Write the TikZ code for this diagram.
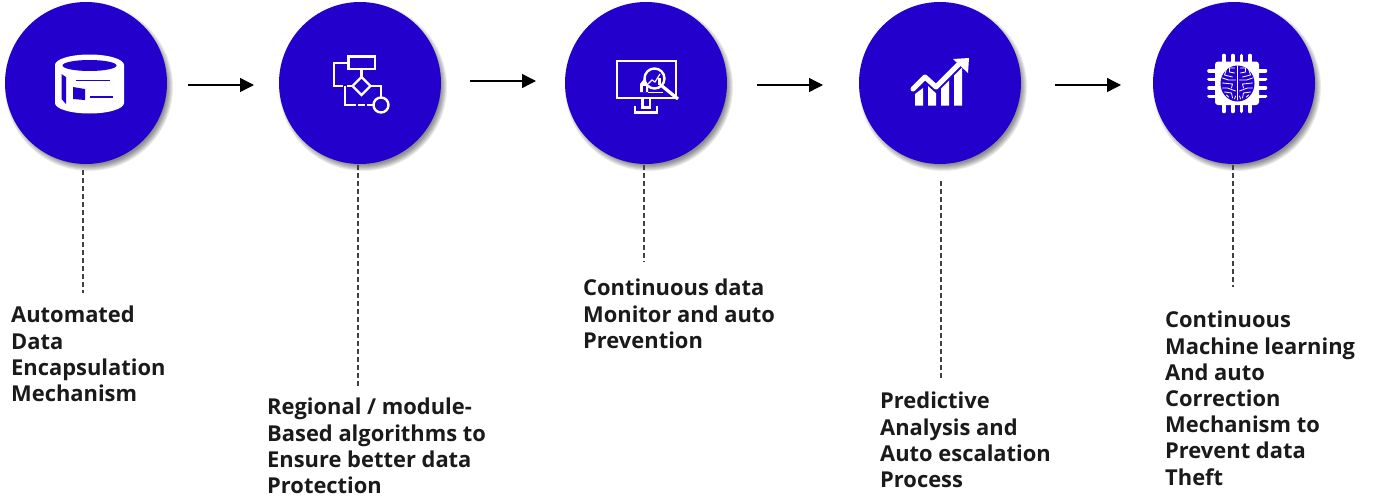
\documentclass[tikz,border=0pt]{standalone}
\usepackage{fontspec}
\setmainfont{Open Sans}
\usetikzlibrary{arrows.meta}
\definecolor{disc}{HTML}{2300CC}
\definecolor{ink}{HTML}{1A1A1A}
\tikzset{
  x=1pt,y=-1pt,
  discnode/.style={circle,fill=disc,minimum size=162pt,inner sep=0pt},
  flowarrow/.style={draw=black,line width=1.3pt,-{Triangle[length=14pt,width=14pt]}},
  leader/.style={draw=black!75,line width=1.3pt,dash pattern=on 5pt off 3pt},
  caption/.style={anchor=north west,inner sep=0pt,align=left,text=ink,font=\fontsize{21.9}{26.2}\selectfont\bfseries},
  iconline/.style={draw=white,line width=2.4pt,fill=none},
  brainline/.style={draw=white,line width=.8pt,line cap=round}
}
\newcommand{\softshadow}[2]{%
  \foreach \k in {0,...,6}{\fill[black,opacity=.08] (#1+3,#2+4) circle[radius=84-\k];}}
\begin{document}
\begin{tikzpicture}
\useasboundingbox (0,0) rectangle (1379,498);
\softshadow{86}{83}\softshadow{360}{83}\softshadow{646}{83}\softshadow{940}{83}\softshadow{1234}{83}
\node[discnode] (c1) at (86,83) {};
\node[discnode] (c2) at (360,83) {};
\node[discnode] (c3) at (646,83) {};
\node[discnode] (c4) at (940,83) {};
\node[discnode] (c5) at (1234,83) {};

% arrows
\coordinate (a1s) at (188,85); \coordinate (a1e) at (254,85);
\coordinate (a2s) at (470,81); \coordinate (a2e) at (536,81);
\coordinate (a3s) at (757,85); \coordinate (a3e) at (823,85);
\coordinate (a4s) at (1055,85); \coordinate (a4e) at (1121,85);
\draw[flowarrow] (a1s) -- (a1e);
\draw[flowarrow] (a2s) -- (a2e);
\draw[flowarrow] (a3s) -- (a3e);
\draw[flowarrow] (a4s) -- (a4e);

% captions
\node[caption] (t1) at (11,306) {Automated\\Data\\Encapsulation\\Mechanism};
\node[caption] (t2) at (267,398) {Regional / module-\\Based algorithms to\\Ensure better data\\Protection};
\node[caption] (t3) at (583,279) {Continuous data\\Monitor and auto\\Prevention};
\node[caption] (t4) at (880,392) {Predictive\\Analysis and\\Auto escalation\\Process};
\node[caption] (t5) at (1165,311) {Continuous\\Machine learning\\And auto\\Correction\\Mechanism to\\Prevent data\\Theft};

% leaders
\coordinate (d1s) at (83,170); \coordinate (d1e) at (83,293);
\coordinate (d2s) at (358,165); \coordinate (d2e) at (358,388);
\coordinate (d3s) at (644,165); \coordinate (d3e) at (644,262);
\coordinate (d4s) at (941,181); \coordinate (d4e) at (941,380);
\coordinate (d5s) at (1233,165); \coordinate (d5e) at (1233,287);
\draw[leader] (d1s) -- (d1e);
\draw[leader] (d2s) -- (d2e);
\draw[leader] (d3s) -- (d3e);
\draw[leader] (d4s) -- (d4e);
\draw[leader] (d5s) -- (d5e);

% icon 1: storage drum
\fill[white] (55,65) arc[start angle=180,end angle=360,x radius=34.5,y radius=10.5] -- (124,103)
  arc[start angle=0,end angle=180,x radius=34.5,y radius=10.5] -- cycle;
\fill[disc] (89.5,65.5) ellipse[x radius=27,y radius=5.5];
\fill[disc] (61.5,74) -- (66,77) -- (66,104) -- (61.5,99) -- cycle;
\fill[disc] (76,79.5) rectangle (110,81);
\fill[disc] (73,87) -- (85,89) -- (85,100) -- (73,99) -- cycle;
\fill[disc] (90,96) rectangle (113,98);

% icon 2: flow chart
\draw[iconline] (348.5,56.5) rectangle (375,69);
\draw[iconline] (348.5,63) -- (334,63) -- (334,86) -- (343,86);
\draw[iconline] (361.5,69) -- (361.5,77);
\draw[iconline] (361.5,77) -- (370.5,86) -- (361.5,95) -- (352.5,86) -- cycle;
\draw[iconline] (370,86) -- (381,86) -- (381,97);
\draw[iconline] (381,105) circle[radius=7.5];
\draw[iconline] (345,86) -- (345,105) -- (349,105);
\draw[iconline,dash pattern=on 6pt off 2.5pt] (347,86) -- (353,86);
\draw[iconline,dash pattern=on 6.5pt off 2.5pt] (349,105) -- (373,105);

% icon 3: monitor and magnifier
\draw[iconline] (617,61) rectangle (676,98);
\draw[iconline] (642.5,98) -- (642.5,107.5) -- (650,107.5) -- (650,98);
\draw[iconline] (635,106) -- (635,112.5) -- (657,112.5) -- (657,106);
\fill[white] (644,79) -- (648,84) -- (648,92) -- (640,92) -- (640,84) -- cycle;
\fill[disc] (642.5,86) rectangle (645.5,92);
\draw[white,line width=1pt] (648,92) -- (663,92);
\fill[disc] (654.5,78.5) circle[radius=10];
\draw[iconline] (654.5,78.5) circle[radius=10];
\draw[white,line width=1.2pt] (648,84) -- (652,80) -- (655,82) -- (660,74);
\fill[white] (658,78) rectangle (660.5,85);
\draw[white,line width=3.2pt] (662,86) -- (678,99);

% icon 4: growth chart
\fill[white] (915,94) -- (923,88) -- (923,105.5) -- (915,105.5) -- cycle;
\fill[white] (928,84) -- (936,90) -- (936,105.5) -- (928,105.5) -- cycle;
\fill[white] (941,87) -- (949,79) -- (949,105.5) -- (941,105.5) -- cycle;
\fill[white] (954,74) -- (962,66) -- (962,105.5) -- (954,105.5) -- cycle;
\draw[disc,line width=9pt,line join=miter] (913,89) -- (925,77) -- (936,87) -- (959,64);
\draw[white,line width=5pt,line cap=round,line join=round] (913,89) -- (925,77) -- (936,87) -- (960,63);
\fill[white] (953,59) -- (969,58) -- (968,73) -- cycle;

% icon 5: chip with brain
\foreach \p in {1224,1232.7,1241.3,1250}{
  \draw[white,line width=3.6pt,line cap=round] (\p,55.5) -- (\p,63);
  \draw[white,line width=3.6pt,line cap=round] (\p,111.5) -- (\p,103);}
\foreach \q in {70.7,79.3,87.7,96.3}{
  \draw[white,line width=3.6pt,line cap=round] (1209,\q) -- (1217,\q);
  \draw[white,line width=3.6pt,line cap=round] (1265.5,\q) -- (1257,\q);}
\fill[white,rounded corners=3pt] (1215,61.5) rectangle (1259,105);
\fill[disc] (1237.5,83.5) ellipse[x radius=17,y radius=18];
\draw[brainline] (1237.5,66) -- (1237.5,100);
\foreach \s in {-1,1}{
  \draw[brainline] (1237.5+\s*3,68) -- (1237.5+\s*8,68) -- (1237.5+\s*8,72) -- (1237.5+\s*3,73);
  \draw[brainline] (1237.5+\s*11,69) -- (1237.5+\s*13,75) -- (1237.5+\s*5,77);
  \draw[brainline] (1237.5+\s*2,80) -- (1237.5+\s*9,80) -- (1237.5+\s*15,78);
  \draw[brainline] (1237.5+\s*15,83) -- (1237.5+\s*5,84) -- (1237.5+\s*6,88);
  \draw[brainline] (1237.5+\s*2,91) -- (1237.5+\s*10,88) -- (1237.5+\s*15,88);
  \draw[brainline] (1237.5+\s*13,92) -- (1237.5+\s*6,93) -- (1237.5+\s*5,98);
  \draw[brainline] (1237.5+\s*2,96) -- (1237.5+\s*3,99);
  \draw[brainline] (1237.5+\s*9,97) -- (1237.5+\s*11,95);
}
\end{tikzpicture}
\end{document}
